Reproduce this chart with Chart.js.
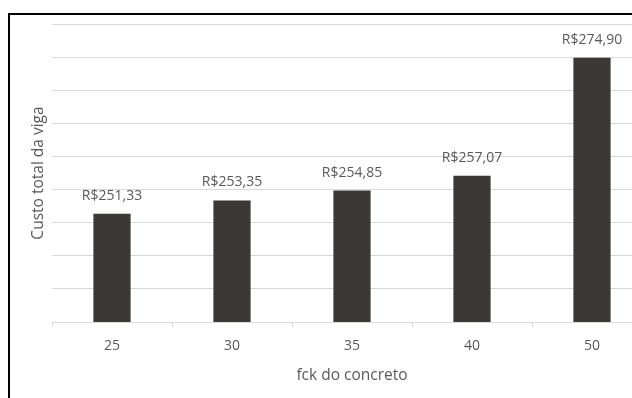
<!DOCTYPE html>
<html>
<head>
<meta charset="utf-8">
<script src="https://cdn.jsdelivr.net/npm/chart.js@4/dist/chart.umd.min.js"></script>
<style>
  html, body { margin: 0; padding: 0; background: #fff; overflow: hidden; width: 632px; height: 398px; }
  #frame { position: absolute; left: 8px; top: 13px; border-left: 2px solid #000; border-top: 2px solid #000; width: 660px; height: 383px; }
  #myChart { display: block; }
</style>
</head>
<body>
<div id="frame"><canvas id="myChart" width="660" height="383"></canvas></div>
<script>
// fck values (MPa) and total beam cost (R$)
const categorias = ['25', '30', '35', '40', '50']
const custos = [251.33, 253.35, 254.85, 257.07, 274.90]
const yMin = 235
const yMax = 280
const yStep = 5

const cinza = '#595959'
const fonte = 'Open Sans'

//--VALUE LABELS ABOVE EACH BAR
const rotulos = {
    id: 'rotulos',
    afterDatasetsDraw(chart) {
        const ctx = chart.ctx
        const meta = chart.getDatasetMeta(0)
        ctx.save()
        ctx.font = '14px "' + fonte + '"'
        ctx.fillStyle = cinza
        ctx.textAlign = 'center'
        ctx.textBaseline = 'middle'
        meta.data.forEach((bar, i) => {
            const txt = 'R$' + custos[i].toFixed(2).replace('.', ',')
            ctx.fillText(txt, bar.x, bar.y - 18)
        })
        ctx.restore()
    }
}

const ctx = document.getElementById('myChart')
new Chart(ctx, {
    type: 'bar',
    data: {
        labels: categorias,
        datasets: [{
            label: 'Custo total da viga',
            data: custos,
            backgroundColor: '#3b3836',
            borderWidth: 0,
            barPercentage: 0.31,
            categoryPercentage: 1
        }]
    },
    plugins: [rotulos],
    options: {
        responsive: false,
        animation: false,
        layout: { padding: { top: 9, right: 18, bottom: 0, left: 0 } },
        plugins: {
            legend: { display: false },
            tooltip: { enabled: false }
        },
        scales: {
            x: {
                grid: { drawOnChartArea: false, color: '#d9d9d9', tickLength: 5, offset: true },
                border: { display: true, color: '#d9d9d9' },
                ticks: { color: cinza, font: { family: fonte, size: 14 }, padding: 11 },
                title: { display: true, text: 'fck do concreto', color: cinza,
                         font: { family: fonte, size: 15.5 }, padding: { top: 0, bottom: 13 } },
                afterFit: (scale) => { scale.height = 76 }
            },
            y: {
                min: yMin,
                max: yMax,
                ticks: { display: false, stepSize: yStep },
                grid: { color: '#d9d9d9', drawTicks: false },
                border: { display: false },
                title: { display: true, text: 'Custo total da viga', color: cinza,
                         font: { family: fonte, size: 15.5 }, padding: { top: 19, bottom: 0 } },
                afterFit: (scale) => { scale.width = 42 }
            }
        }
    }
})
</script>
</body>
</html>
